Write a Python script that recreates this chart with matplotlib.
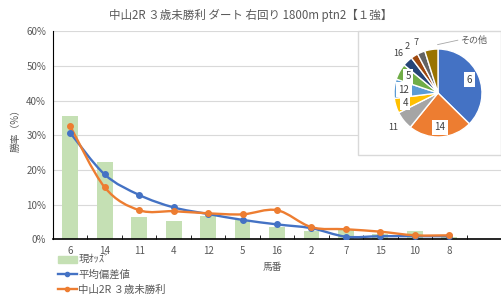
import matplotlib
matplotlib.use('Agg')
import matplotlib.pyplot as plt
from matplotlib.path import Path
from matplotlib.patches import PathPatch, Rectangle
from matplotlib.lines import Line2D
import numpy as np

plt.rcParams['font.family'] = ['Noto Sans CJK JP', 'DejaVu Sans']

# data
horses = ['6', '14', '11', '4', '12', '5', '16', '2', '7', '15', '10', '8']
odds = [35.5, 22.3, 6.4, 5.2, 6.7, 5.6, 3.5, 2.5, 2.7, 1.5, 2.4, 0.7]
avg_dev = [30.7, 18.7, 12.8, 9.2, 7.3, 5.6, 4.3, 3.2, 0.75, 0.9, 0.9, 0.9]
course = [32.6, 15.0, 8.4, 8.1, 7.5, 7.2, 8.4, 3.5, 2.9, 2.2, 1.15, 1.15]

pie_labels = ['6', '14', '11', '4', '12', '5', '16', '2', '7', 'その他']
pie_vals = [35.5, 22.3, 6.4, 5.2, 6.7, 5.6, 3.5, 2.5, 2.7, 4.6]
pie_colors = ['#4472C4', '#ED7D31', '#A5A5A5', '#FFC000', '#5B9BD5',
              '#70AD47', '#264478', '#9E480E', '#636363', '#997300']
inside = ['6', '14', '4', '12', '5']

GRAY = '#595959'


def smooth_path(x, y):
    # excel style smoothed line as cubic bezier segments
    pts = np.column_stack([x, y]).astype(float)
    verts = [pts[0]]
    codes = [Path.MOVETO]
    n = len(pts)
    for i in range(n - 1):
        p0 = pts[i - 1] if i > 0 else pts[i]
        p1 = pts[i]
        p2 = pts[i + 1]
        p3 = pts[i + 2] if i + 2 < n else pts[i + 1]
        c1 = p1 + (p2 - p0) / 6.0
        c2 = p2 - (p3 - p1) / 6.0
        verts += [c1, c2, p2]
        codes += [Path.CURVE4] * 3
    return Path(verts, codes)


fig = plt.figure(figsize=(5.01, 3.03), dpi=100)
ax = fig.add_axes([53 / 501, 1 - 239.3 / 303, 1 - 53 / 501, 208 / 303])

xs = np.arange(len(horses))
ax.bar(xs, odds, width=0.46, color='#C5E0B4', zorder=2)
for vals, col in [(avg_dev, '#4472C4'), (course, '#ED7D31')]:
    ax.add_patch(PathPatch(smooth_path(xs, vals), facecolor='none',
                           edgecolor=col, lw=1.7, zorder=3))
    ax.plot(xs, vals, linestyle='none', marker='o', ms=4, color=col, zorder=4)

ax.set_xlim(-0.5, 12.4)
ax.set_ylim(0, 60)
ax.set_yticks(range(0, 61, 10))
ax.set_yticklabels([f'{v}%' for v in range(0, 61, 10)])
ax.set_xticks(xs)
ax.set_xticklabels(horses)
ax.set_xticks(np.arange(-0.5, 12.6, 1), minor=True)
ax.tick_params(axis='x', which='major', length=0, pad=5, labelsize=7, labelcolor=GRAY)
ax.tick_params(axis='x', which='minor', direction='in', length=3, color='black')
ax.tick_params(axis='y', length=0, pad=5, labelsize=7, labelcolor=GRAY)
ax.grid(axis='y', color='#D9D9D9', lw=0.8, zorder=0)
ax.set_axisbelow(True)
for s in ['top', 'right']:
    ax.spines[s].set_visible(False)
ax.spines['left'].set_color('black')
ax.spines['bottom'].set_color('black')
ax.spines['bottom'].set_linewidth(1.2)

fig.text(16 / 501, 1 - 128 / 303, '勝率（%）', rotation=90, ha='center', va='center',
         color=GRAY, fontsize=7)
fig.text(272 / 501, 1 - 267 / 303, '馬番', ha='center', va='center',
         color=GRAY, fontsize=7)

fig.text(0.5, 1 - 15 / 303, '中山2R ３歳未勝利 ダート 右回り 1800m ptn2【１強】',
         ha='center', va='center', fontsize=8.3, color=GRAY)

handles = [Rectangle((0, 0), 1, 1, color='#C5E0B4'),
           Line2D([], [], color='#4472C4', lw=1.7, marker='o', ms=3),
           Line2D([], [], color='#ED7D31', lw=1.7, marker='o', ms=3)]
fig.legend(handles, ['現ｵｯｽﾞ', '平均偏差値', '中山2R ３歳未勝利'],
           loc='upper left', bbox_to_anchor=(58 / 501, 1 - 255 / 303),
           frameon=False, fontsize=7.5, labelcolor=GRAY, handlelength=1.8,
           handletextpad=0.15, labelspacing=0.45, borderpad=0, borderaxespad=0)

# pie inset
fig.patches.append(Rectangle((358 / 501, 1 - 155 / 303), 143 / 501, 124 / 303,
                             transform=fig.transFigure, facecolor='white',
                             edgecolor='#D9D9D9', lw=1, zorder=5))
pax = fig.add_axes([394 / 501, 1 - 137 / 303, 88 / 501, 88 / 303], zorder=6)
wedges, _ = pax.pie(pie_vals, colors=pie_colors, startangle=90, counterclock=False,
                    wedgeprops=dict(edgecolor='white', linewidth=1))
pax.set_aspect('equal')
pax.set_xlim(-1, 1)
pax.set_ylim(-1, 1)
for w, lab in zip(wedges, pie_labels):
    ang = np.deg2rad((w.theta1 + w.theta2) / 2)
    c, s = np.cos(ang), np.sin(ang)
    if lab in inside:
        pax.text(0.78 * c, 0.78 * s, lab, ha='center', va='center', fontsize=7,
                 color='#404040', bbox=dict(fc='white', ec='none', pad=1.8))
    elif lab == 'その他':
        pax.plot([0.05 * c + 0.0, 0.45], [1.1, 1.2], color='#A6A6A6', lw=0.6,
                 clip_on=False)
        pax.text(0.5, 1.2, lab, ha='left', va='center', fontsize=6.5,
                 color=GRAY)
    else:
        pax.text(1.3 * c, 1.25 * s, lab, ha='center', va='center', fontsize=6.5,
                 color='#404040')

fig.savefig('out.png', dpi=100)
